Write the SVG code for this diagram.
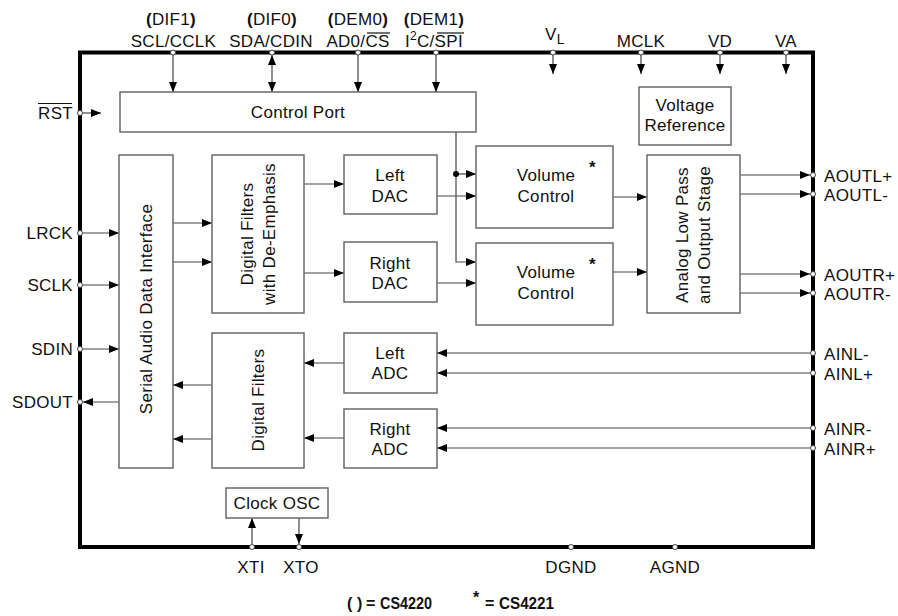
<svg xmlns="http://www.w3.org/2000/svg" width="898" height="616" viewBox="0 0 898 616">
<defs>
<style>
text{font-family:"Liberation Sans",Arial,sans-serif;font-size:17px;fill:#111;letter-spacing:0.3px}
.m{text-anchor:middle}
.e{text-anchor:end}
.b{font-weight:bold}
.box{fill:#fff;stroke:#6a6a6a;stroke-width:1.5}
.c{fill:none;stroke:#444;stroke-width:1.2}
.a{marker-end:url(#ah)}
.aa{marker-start:url(#ah);marker-end:url(#ah)}
.pin{fill:#fff;stroke:#444;stroke-width:1}
.ol{stroke:#111;stroke-width:1.2}
.lg{font-weight:bold;font-size:16px;letter-spacing:0}
</style>
<marker id="ah" viewBox="0 0 10 8" refX="10" refY="4" markerWidth="10" markerHeight="8" markerUnits="userSpaceOnUse" orient="auto-start-reverse"><path d="M0,0L10,4L0,8z" fill="#000"/></marker>
</defs>
<rect width="898" height="616" fill="#fff"/>
<g id="chip"><rect x="80" y="52.5" width="733" height="494.5" fill="none" stroke="#000" stroke-width="4"/></g>

<g id="connectors">
<line class="c a" x1="173" y1="55" x2="173" y2="92"/>
<line class="c aa" x1="272" y1="55" x2="272" y2="92"/>
<line class="c a" x1="358" y1="55" x2="358" y2="92"/>
<line class="c a" x1="436" y1="55" x2="436" y2="92"/>
<line class="c a" x1="553" y1="55" x2="553" y2="74"/>
<line class="c a" x1="641" y1="55" x2="641" y2="74"/>
<line class="c a" x1="720" y1="55" x2="720" y2="74"/>
<line class="c a" x1="786" y1="55" x2="786" y2="74"/>
<line class="c a" x1="83" y1="113" x2="101" y2="113"/>
<line class="c a" x1="83" y1="233" x2="119" y2="233"/>
<line class="c a" x1="83" y1="285" x2="119" y2="285"/>
<line class="c a" x1="83" y1="349" x2="119" y2="349"/>
<line class="c a" x1="119" y1="402" x2="83" y2="402"/>
<line class="c a" x1="173" y1="223" x2="212" y2="223"/>
<line class="c a" x1="173" y1="262" x2="212" y2="262"/>
<line class="c a" x1="304" y1="184" x2="344" y2="184"/>
<line class="c a" x1="304" y1="273" x2="344" y2="273"/>
<line class="c a" x1="437" y1="196" x2="476" y2="196"/>
<line class="c a" x1="437" y1="283" x2="476" y2="283"/>
<path class="c a" d="M456,132V262H476"/>
<line class="c a" x1="456" y1="174" x2="476" y2="174"/>
<circle cx="456" cy="174" r="3" fill="#000"/>
<line class="c a" x1="613" y1="197" x2="647" y2="197"/>
<line class="c a" x1="613" y1="272" x2="647" y2="272"/>
<line class="c a" x1="740" y1="175" x2="810" y2="175"/>
<line class="c a" x1="740" y1="194" x2="810" y2="194"/>
<line class="c a" x1="740" y1="274" x2="810" y2="274"/>
<line class="c a" x1="740" y1="293" x2="810" y2="293"/>
<line class="c a" x1="810" y1="353" x2="437" y2="353"/>
<line class="c a" x1="810" y1="373" x2="437" y2="373"/>
<line class="c a" x1="810" y1="428" x2="437" y2="428"/>
<line class="c a" x1="810" y1="448" x2="437" y2="448"/>
<line class="c a" x1="344" y1="363" x2="304" y2="363"/>
<line class="c a" x1="344" y1="438" x2="304" y2="438"/>
<line class="c a" x1="212" y1="385" x2="173" y2="385"/>
<line class="c a" x1="212" y1="439" x2="173" y2="439"/>
<line class="c a" x1="252" y1="544" x2="252" y2="518"/>
<line class="c a" x1="299" y1="518" x2="299" y2="544"/>
</g>

<g id="control-port"><rect class="box" x="120" y="92" width="356" height="40"/><text class="m" x="298" y="118">Control Port</text></g>
<g id="voltage-reference"><rect class="box" x="639" y="87" width="92" height="58"/><text class="m" x="685" y="111">Voltage</text><text class="m" x="685" y="131">Reference</text></g>
<g id="serial-audio"><rect class="box" x="119" y="155" width="54" height="313"/><text class="m" transform="translate(152,309) rotate(-90)">Serial Audio Data Interface</text></g>
<g id="dig-filters-deemph"><rect class="box" x="212" y="155" width="92" height="158"/><text class="m" transform="translate(253,234) rotate(-90)">Digital Filters</text><text class="m" transform="translate(275,234) rotate(-90)">with De-Emphasis</text></g>
<g id="left-dac"><rect class="box" x="344" y="155" width="93" height="59"/><text class="m" x="390" y="181">Left</text><text class="m" x="390" y="201.5">DAC</text></g>
<g id="right-dac"><rect class="box" x="344" y="242" width="93" height="60"/><text class="m" x="390" y="268.5">Right</text><text class="m" x="390" y="289">DAC</text></g>
<g id="volume-control-1"><rect class="box" x="476" y="146" width="137" height="82"/><text class="m" x="546" y="180.5">Volume</text><text class="m" x="546" y="201.5">Control</text><text class="b" x="589" y="173">*</text></g>
<g id="volume-control-2"><rect class="box" x="476" y="243" width="137" height="82"/><text class="m" x="546" y="277.5">Volume</text><text class="m" x="546" y="298.5">Control</text><text class="b" x="589" y="270">*</text></g>
<g id="analog-lp"><rect class="box" x="647" y="155" width="93" height="158"/><text class="m" transform="translate(688,235) rotate(-90)">Analog Low Pass</text><text class="m" transform="translate(710,235) rotate(-90)">and Output Stage</text></g>
<g id="dig-filters"><rect class="box" x="212" y="333" width="92" height="135"/><text class="m" transform="translate(264,400) rotate(-90)">Digital Filters</text></g>
<g id="left-adc"><rect class="box" x="344" y="333" width="93" height="60"/><text class="m" x="390" y="358.5">Left</text><text class="m" x="390" y="379">ADC</text></g>
<g id="right-adc"><rect class="box" x="344" y="409" width="93" height="59"/><text class="m" x="390" y="434.5">Right</text><text class="m" x="390" y="455">ADC</text></g>
<g id="clock-osc"><rect class="box" x="226" y="488" width="102" height="30"/><text class="m" x="277" y="509">Clock OSC</text></g>

<g id="pin-scl"><circle class="pin" cx="173" cy="52.5" r="2.5"/><text class="m" x="171" y="25"><tspan class="b">(</tspan>DIF1<tspan class="b">)</tspan></text><text class="m" x="173.5" y="47">SCL/CCLK</text></g>
<g id="pin-sda"><circle class="pin" cx="272" cy="52.5" r="2.5"/><text class="m" x="272" y="25"><tspan class="b">(</tspan>DIF0<tspan class="b">)</tspan></text><text class="m" x="271" y="47">SDA/CDIN</text></g>
<g id="pin-ad0"><circle class="pin" cx="358" cy="52.5" r="2.5"/><text class="m" x="358" y="25"><tspan class="b">(</tspan>DEM0<tspan class="b">)</tspan></text><text class="m" x="358" y="47">AD0/CS</text><line class="ol" x1="367" y1="33" x2="390" y2="33"/></g>
<g id="pin-i2c"><circle class="pin" cx="436" cy="52.5" r="2.5"/><text class="m" x="434" y="25"><tspan class="b">(</tspan>DEM1<tspan class="b">)</tspan></text><text x="405" y="47">I<tspan font-size="12" dy="-7">2</tspan><tspan dy="7">C/SPI</tspan></text><line class="ol" x1="437" y1="33" x2="464" y2="33"/></g>
<g id="pin-vl"><circle class="pin" cx="553" cy="52.5" r="2.5"/><text x="545" y="40">V<tspan font-size="14" dy="4">L</tspan></text></g>
<g id="pin-mclk"><circle class="pin" cx="641" cy="52.5" r="2.5"/><text class="m" x="641" y="47">MCLK</text></g>
<g id="pin-vd"><circle class="pin" cx="720" cy="52.5" r="2.5"/><text class="m" x="720" y="47">VD</text></g>
<g id="pin-va"><circle class="pin" cx="786" cy="52.5" r="2.5"/><text class="m" x="786" y="47">VA</text></g>
<g id="pin-rst"><circle class="pin" cx="80" cy="113" r="2.5"/><text class="e" x="73" y="119">RST</text><line class="ol" x1="38" y1="103.5" x2="72" y2="103.5"/></g>
<g id="pin-lrck"><circle class="pin" cx="80" cy="233" r="2.5"/><text class="e" x="73" y="239">LRCK</text></g>
<g id="pin-sclk"><circle class="pin" cx="80" cy="285" r="2.5"/><text class="e" x="73" y="291">SCLK</text></g>
<g id="pin-sdin"><circle class="pin" cx="80" cy="349" r="2.5"/><text class="e" x="73" y="355">SDIN</text></g>
<g id="pin-sdout"><circle class="pin" cx="80" cy="402" r="2.5"/><text class="e" x="73" y="408">SDOUT</text></g>
<g id="pin-aoutlp"><circle class="pin" cx="813" cy="175" r="2.5"/><text x="824" y="181.5">AOUTL+</text></g>
<g id="pin-aoutlm"><circle class="pin" cx="813" cy="194" r="2.5"/><text x="824" y="200.5">AOUTL-</text></g>
<g id="pin-aoutrp"><circle class="pin" cx="813" cy="274" r="2.5"/><text x="824" y="280.5">AOUTR+</text></g>
<g id="pin-aoutrm"><circle class="pin" cx="813" cy="293" r="2.5"/><text x="824" y="299.5">AOUTR-</text></g>
<g id="pin-ainlm"><circle class="pin" cx="813" cy="353" r="2.5"/><text x="824" y="359.5">AINL-</text></g>
<g id="pin-ainlp"><circle class="pin" cx="813" cy="373" r="2.5"/><text x="824" y="379.5">AINL+</text></g>
<g id="pin-ainrm"><circle class="pin" cx="813" cy="428" r="2.5"/><text x="824" y="434.5">AINR-</text></g>
<g id="pin-ainrp"><circle class="pin" cx="813" cy="448" r="2.5"/><text x="824" y="454.5">AINR+</text></g>
<g id="pin-xti"><circle class="pin" cx="252" cy="547" r="2.5"/><text class="m" x="251" y="573">XTI</text></g>
<g id="pin-xto"><circle class="pin" cx="299" cy="547" r="2.5"/><text class="m" x="301" y="573">XTO</text></g>
<g id="pin-dgnd"><circle class="pin" cx="571" cy="547" r="2.5"/><text class="m" x="571" y="573">DGND</text></g>
<g id="pin-agnd"><circle class="pin" cx="675" cy="547" r="2.5"/><text class="m" x="675" y="573">AGND</text></g>

<g id="legend">
<text class="lg" x="347" y="609">(<tspan x="357">)</tspan><tspan x="366">=</tspan><tspan x="380" textLength="52" lengthAdjust="spacingAndGlyphs">CS4220</tspan></text>
<text class="lg" x="473" y="609"><tspan dy="-6">*</tspan><tspan x="485" dy="6">=</tspan><tspan x="499" textLength="55" lengthAdjust="spacingAndGlyphs">CS4221</tspan></text>
</g>
</svg>
